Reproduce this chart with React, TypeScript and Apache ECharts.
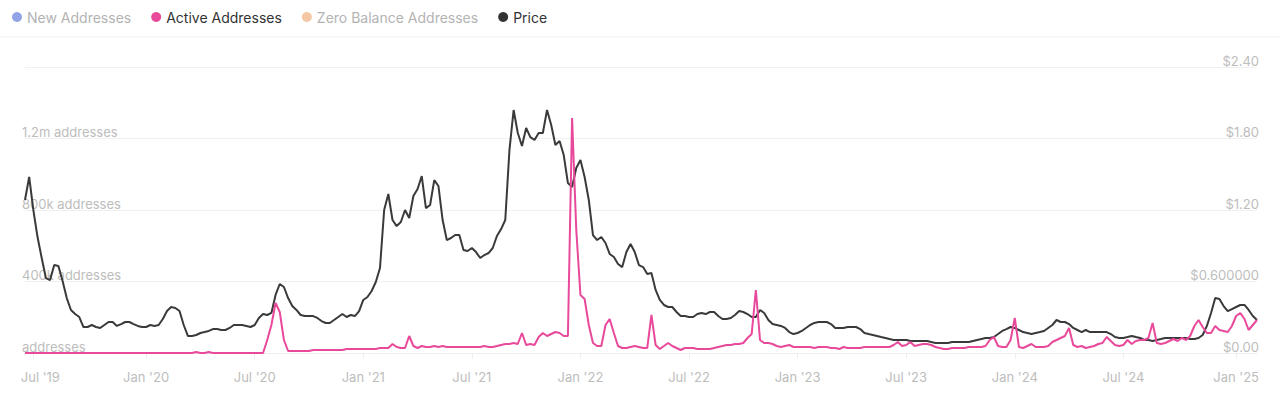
import React, { useEffect, useRef } from 'react';
import * as echarts from 'echarts';

// Weekly observations starting 2019-06-14
const START_DATE = Date.UTC(2019, 5, 14);
const WEEK_MS = 7 * 86400000;

const priceUsd = [
  1.284, 1.477, 1.200, 0.973, 0.797, 0.629, 0.612, 0.738, 0.730, 0.604,
  0.461, 0.361, 0.327, 0.302, 0.218, 0.218, 0.235, 0.218, 0.210, 0.235,
  0.260, 0.260, 0.227, 0.243, 0.260, 0.260, 0.243, 0.227, 0.218, 0.218,
  0.235, 0.227, 0.235, 0.285, 0.352, 0.386, 0.378, 0.352, 0.235, 0.143,
  0.143, 0.151, 0.168, 0.176, 0.185, 0.201, 0.201, 0.193, 0.193, 0.210,
  0.235, 0.235, 0.235, 0.227, 0.218, 0.235, 0.294, 0.327, 0.319, 0.336,
  0.487, 0.579, 0.554, 0.461, 0.394, 0.361, 0.319, 0.310, 0.310, 0.310,
  0.294, 0.268, 0.252, 0.252, 0.277, 0.302, 0.327, 0.302, 0.319, 0.310,
  0.352, 0.445, 0.470, 0.520, 0.596, 0.713, 1.200, 1.334, 1.116, 1.065,
  1.099, 1.200, 1.133, 1.317, 1.376, 1.485, 1.216, 1.242, 1.451, 1.401,
  1.116, 0.948, 0.965, 0.990, 0.990, 0.864, 0.856, 0.881, 0.847, 0.797,
  0.822, 0.839, 0.881, 0.982, 1.040, 1.116, 1.703, 2.039, 1.846, 1.737,
  1.888, 1.812, 1.787, 1.846, 1.846, 2.039, 1.913, 1.745, 1.779, 1.661,
  1.426, 1.393, 1.552, 1.619, 1.477, 1.284, 0.990, 0.948, 0.973, 0.923,
  0.831, 0.805, 0.747, 0.721, 0.847, 0.914, 0.847, 0.738, 0.721, 0.663,
  0.671, 0.529, 0.445, 0.403, 0.386, 0.386, 0.344, 0.310, 0.310, 0.302,
  0.302, 0.327, 0.336, 0.327, 0.344, 0.344, 0.310, 0.285, 0.285, 0.294,
  0.319, 0.352, 0.344, 0.327, 0.302, 0.302, 0.361, 0.336, 0.277, 0.243,
  0.235, 0.227, 0.210, 0.176, 0.159, 0.168, 0.185, 0.210, 0.235, 0.252,
  0.260, 0.260, 0.260, 0.243, 0.210, 0.210, 0.210, 0.218, 0.218, 0.218,
  0.201, 0.168, 0.159, 0.151, 0.143, 0.134, 0.126, 0.117, 0.109, 0.109,
  0.109, 0.109, 0.101, 0.101, 0.101, 0.101, 0.101, 0.092, 0.084, 0.084,
  0.084, 0.084, 0.092, 0.092, 0.092, 0.092, 0.092, 0.101, 0.109, 0.117,
  0.126, 0.126, 0.134, 0.159, 0.185, 0.201, 0.218, 0.210, 0.193, 0.176,
  0.168, 0.159, 0.168, 0.176, 0.185, 0.210, 0.235, 0.277, 0.260, 0.260,
  0.243, 0.210, 0.193, 0.176, 0.193, 0.176, 0.176, 0.176, 0.176, 0.176,
  0.159, 0.134, 0.126, 0.126, 0.134, 0.143, 0.134, 0.126, 0.109, 0.109,
  0.101, 0.109, 0.117, 0.126, 0.126, 0.126, 0.126, 0.126, 0.126, 0.117,
  0.117, 0.126, 0.151, 0.227, 0.336, 0.461, 0.453, 0.394, 0.352, 0.369,
  0.386, 0.403, 0.403, 0.361, 0.310, 0.277,
];

const activeAddresses = [
  0, 0, 0, 0, 0, 0, 0, 0, 0, 0,
  0, 0, 0, 0, 0, 0, 0, 0, 0, 0,
  0, 0, 0, 0, 0, 0, 0, 0, 0, 0,
  0, 0, 0, 0, 0, 0, 0, 0, 0, 0,
  0, 5600, 0, 0, 5600, 0, 0, 0, 0, 0,
  0, 0, 0, 0, 0, 0, 0, 0, 72700, 156600,
  279700, 229400, 72700, 11200, 11200, 11200, 11200, 11200, 11200, 16800,
  16800, 16800, 16800, 16800, 16800, 16800, 16800, 22400, 22400, 22400,
  22400, 22400, 22400, 22400, 22400, 28000, 28000, 28000, 50300, 33600,
  28000, 28000, 95100, 39200, 28000, 39200, 33600, 33600, 39200, 33600,
  39200, 33600, 33600, 33600, 33600, 33600, 33600, 33600, 33600, 33600,
  39200, 33600, 33600, 39200, 44800, 50300, 50300, 55900, 50300, 111900,
  44800, 50300, 44800, 89500, 111900, 95100, 106300, 117500, 111900, 95100,
  95100, 1314600, 688100, 324500, 302100, 156600, 55900, 39200, 39200, 156600,
  190200, 111900, 39200, 28000, 28000, 33600, 39200, 33600, 28000, 28000,
  212600, 44800, 22400, 39200, 55900, 39200, 28000, 16800, 28000, 28000,
  28000, 22400, 22400, 22400, 22400, 28000, 33600, 39200, 44800, 44800,
  50300, 50300, 55900, 83900, 106300, 352400, 72700, 55900, 55900, 50300,
  39200, 33600, 39200, 44800, 33600, 33600, 33600, 33600, 33600, 28000,
  33600, 33600, 33600, 28000, 28000, 22400, 33600, 28000, 28000, 28000,
  28000, 33600, 33600, 33600, 33600, 33600, 33600, 33600, 44800, 61500,
  39200, 44800, 61500, 39200, 44800, 50300, 50300, 44800, 33600, 28000,
  22400, 22400, 28000, 28000, 28000, 28000, 33600, 33600, 33600, 33600,
  39200, 72700, 89500, 39200, 33600, 33600, 72700, 195800, 33600, 28000,
  39200, 50300, 33600, 33600, 33600, 39200, 61500, 72700, 83900, 95100,
  139900, 44800, 33600, 39200, 28000, 33600, 39200, 50300, 55900, 89500,
  67100, 44800, 39200, 44800, 72700, 50300, 67100, 72700, 72700, 83900,
  167800, 55900, 50300, 55900, 67100, 78300, 67100, 83900, 72700, 95100,
  151000, 184600, 145400, 111900, 111900, 151000, 128700, 123100, 117500, 151000,
  207000, 223800, 190200, 128700, 156600, 184600,
];

const newAddresses: number[] = [];
const zeroBalanceAddresses: number[] = [];

const weekDates = priceUsd.map((_, i) =>
  new Date(START_DATE + i * WEEK_MS).toISOString().slice(0, 10)
);

const seriesNames = ['New Addresses', 'Active Addresses', 'Zero Balance Addresses', 'Price'];
const seriesColors = ['#93a3e8', '#e8499b', '#f4c6a3', '#333333'];

// label the week nearest to the 1st of January / July
function halfYearLabel(value: string): string | null {
  const d = new Date(Date.parse(value) + 3 * 86400000);
  const m = d.getUTCMonth();
  if (d.getUTCDate() <= 7 && (m === 0 || m === 6)) {
    const yy = String(d.getUTCFullYear()).slice(2);
    return `${m === 0 ? 'Jan' : 'Jul'} '${yy}`;
  }
  return null;
}

const FONT = 'Inter, "Noto Sans", sans-serif';
const LABEL_COLOR = '#bdbdbd';

export default function App() {
  const ref = useRef<HTMLDivElement>(null);

  useEffect(() => {
    document.body.style.margin = '0';
    if (!ref.current) return;
    const chart = echarts.init(ref.current, null, { renderer: 'svg' });

    const option: any = {
      animation: false,
      textStyle: { fontFamily: FONT },
      legend: {
        left: 7,
        top: 5,
        itemWidth: 10,
        itemHeight: 10,
        itemGap: 20,
        icon: 'circle',
        selectedMode: false,
        textStyle: { fontFamily: FONT, fontSize: 14, color: '#333' },
        data: [
          { name: seriesNames[0], textStyle: { color: '#b3b3b3' } },
          { name: seriesNames[1], textStyle: { color: '#333' } },
          { name: seriesNames[2], textStyle: { color: '#b3b3b3' } },
          { name: seriesNames[3], textStyle: { color: '#333' } },
        ],
      },
      graphic: [
        {
          type: 'line',
          shape: { x1: 0, y1: 37, x2: 1280, y2: 37 },
          style: { stroke: '#efefef', lineWidth: 1 },
          silent: true,
        },
      ],
      grid: { left: 25, right: 23, top: 67, bottom: 51, containLabel: false },
      xAxis: {
        type: 'category',
        data: weekDates,
        boundaryGap: false,
        axisLine: { show: true, lineStyle: { color: '#eeeeee' } },
        axisTick: {
          show: true,
          length: 6,
          lineStyle: { color: '#eeeeee' },
          interval: (_i: number, v: string) => halfYearLabel(v) !== null,
        },
        axisLabel: {
          interval: (_i: number, v: string) => halfYearLabel(v) !== null,
          formatter: (v: string) => {
            const l = halfYearLabel(v) || '';
            return l === "Jul '19" ? `{first|${l}}` : l;
          },
          rich: { first: { padding: [0, 0, 0, 14], color: LABEL_COLOR, fontSize: 13, fontFamily: FONT } },
          color: LABEL_COLOR,
          fontSize: 13,
          fontFamily: FONT,
          margin: 17,
        },
        splitLine: { show: false },
      },
      yAxis: [
        {
          type: 'value',
          min: 0,
          max: 1600000,
          interval: 400000,
          position: 'left',
          axisLine: { show: false },
          axisTick: { show: false },
          splitLine: { show: true, lineStyle: { color: '#f0f0f0' } },
          axisLabel: {
            inside: true,
            margin: -3,
            verticalAlign: 'bottom',
            color: LABEL_COLOR,
            fontSize: 13,
            fontFamily: FONT,
            formatter: (v: number) => {
              if (v >= 1600000) return '';
              if (v === 0) return 'addresses';
              if (v >= 1000000) return `${(v / 1000000).toFixed(1)}m addresses`;
              return `${Math.round(v / 1000)}k addresses`;
            },
          },
        },
        {
          type: 'value',
          min: 0,
          max: 2.4,
          interval: 0.6,
          position: 'right',
          axisLine: { show: false },
          axisTick: { show: false },
          splitLine: { show: false },
          axisLabel: {
            inside: true,
            margin: -2,
            verticalAlign: 'bottom',
            color: LABEL_COLOR,
            fontSize: 13,
            fontFamily: FONT,
            formatter: (v: number) =>
              Math.abs(v - 0.6) < 1e-6 ? '$0.600000' : `$${v.toFixed(2)}`,
          },
        },
      ],
      series: [
        {
          name: seriesNames[0],
          type: 'line',
          data: newAddresses,
          yAxisIndex: 0,
          showSymbol: false,
          itemStyle: { color: seriesColors[0] },
          lineStyle: { color: seriesColors[0], width: 2 },
        },
        {
          name: seriesNames[1],
          type: 'line',
          data: activeAddresses,
          yAxisIndex: 0,
          showSymbol: false,
          z: 4,
          itemStyle: { color: seriesColors[1] },
          lineStyle: { color: seriesColors[1], width: 2 },
        },
        {
          name: seriesNames[2],
          type: 'line',
          data: zeroBalanceAddresses,
          yAxisIndex: 0,
          showSymbol: false,
          itemStyle: { color: seriesColors[2] },
          lineStyle: { color: seriesColors[2], width: 2 },
        },
        {
          name: seriesNames[3],
          type: 'line',
          data: priceUsd,
          yAxisIndex: 1,
          showSymbol: false,
          z: 3,
          itemStyle: { color: seriesColors[3] },
          lineStyle: { color: '#3a3a3a', width: 2 },
        },
      ],
    };

    chart.setOption(option);
    return () => chart.dispose();
  }, []);

  return <div ref={ref} style={{ width: 1280, height: 404 }} />;
}
